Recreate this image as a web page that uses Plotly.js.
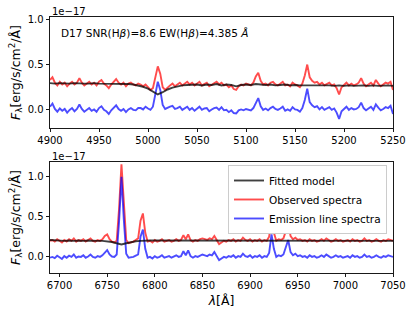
<!DOCTYPE html>
<html><head><meta charset="utf-8">
<script src="https://cdn.plot.ly/plotly-3.0.1.min.js"></script>
<style>html,body{margin:0;padding:0;background:#fff}</style>
</head><body><div id="chart" style="width:415px;height:316px"></div>
<script>
// Wavelength grids (start, step) – values listed below are sampled on these grids
const topStart = 4900, obsStep = 2.5, modelStep = 5;
const botStart = 6690;

// ---- Top panel (H-beta region), flux in units of 1e-17 ----
const topModel = [0.295,0.29,0.295,0.29,0.29,0.295,0.29,0.29,0.29,0.295,0.29,0.29,0.285,0.29,0.29,0.29,0.285,0.28,0.27,0.255,0.235,0.205,0.17,0.195,0.225,0.245,0.26,0.27,0.275,0.28,0.28,0.27,0.28,0.275,0.285,0.27,0.28,0.275,0.26,0.275,0.28,0.275,0.285,0.28,0.275,0.28,0.27,0.275,0.28,0.27,0.275,0.27,0.27,0.275,0.27,0.275,0.27,0.27,0.265,0.27,0.265,0.27,0.265,0.27,0.27,0.265,0.27,0.265,0.27,0.27,0.265];
const topObserved = [0.33,0.36,0.30,0.27,0.31,0.28,0.30,0.26,0.29,0.31,0.28,0.30,0.35,0.30,0.27,0.29,0.31,0.28,0.30,0.27,0.31,0.33,0.29,0.27,0.24,0.28,0.31,0.34,0.30,0.28,0.30,0.26,0.29,0.30,0.28,0.27,0.29,0.28,0.26,0.28,0.25,0.22,0.24,0.36,0.48,0.40,0.25,0.22,0.25,0.27,0.29,0.26,0.28,0.30,0.27,0.29,0.31,0.28,0.30,0.27,0.29,0.31,0.27,0.29,0.30,0.26,0.28,0.30,0.31,0.28,0.30,0.27,0.28,0.25,0.27,0.23,0.22,0.26,0.28,0.27,0.29,0.28,0.27,0.30,0.37,0.41,0.32,0.28,0.29,0.27,0.30,0.31,0.28,0.27,0.29,0.31,0.27,0.28,0.26,0.30,0.28,0.27,0.25,0.29,0.38,0.50,0.36,0.32,0.30,0.31,0.28,0.30,0.27,0.29,0.30,0.27,0.28,0.24,0.17,0.25,0.28,0.30,0.27,0.29,0.27,0.28,0.30,0.35,0.29,0.26,0.28,0.30,0.27,0.33,0.29,0.26,0.28,0.30,0.29,0.31,0.22];
const topEmission = [0.035,0.07,0.01,-0.02,0.015,-0.01,0.01,-0.03,0.0,0.02,-0.015,0.01,0.06,0.01,-0.02,0.0,0.02,-0.01,0.005,-0.02,0.02,0.04,0.0,-0.015,-0.045,-0.005,0.02,0.05,0.01,-0.01,0.01,-0.025,0.005,0.02,0.0,-0.005,0.02,0.02,0.005,0.035,0.015,0.0,0.035,0.17,0.31,0.22,0.055,0.01,0.025,0.035,0.045,0.01,0.02,0.035,0.0,0.02,0.035,0.0,0.02,-0.01,0.01,0.035,0.0,0.015,0.02,-0.015,0.005,0.02,0.025,0.0,0.03,-0.005,0.0,-0.025,-0.005,-0.035,-0.04,-0.005,0.005,-0.005,0.01,0.0,-0.005,0.02,0.085,0.13,0.04,0.0,0.015,-0.005,0.02,0.035,0.01,0.0,0.015,0.035,-0.01,0.005,-0.01,0.03,0.005,0.0,-0.02,0.02,0.11,0.235,0.085,0.05,0.03,0.04,0.005,0.03,0.0,0.02,0.03,0.0,0.015,-0.03,-0.1,-0.015,0.015,0.035,0.0,0.02,0.005,0.01,0.03,0.08,0.02,-0.005,0.015,0.035,0.0,0.06,0.025,-0.005,0.01,0.03,0.02,0.045,-0.045];

// ---- Bottom panel (H-alpha / [NII] / [SII] region) ----
const botModel = [0.21,0.205,0.205,0.2,0.205,0.2,0.205,0.2,0.205,0.2,0.2,0.2,0.195,0.185,0.17,0.155,0.17,0.185,0.195,0.2,0.205,0.205,0.205,0.205,0.2,0.205,0.2,0.205,0.2,0.205,0.2,0.2,0.2,0.2,0.205,0.2,0.205,0.2,0.2,0.205,0.2,0.205,0.2,0.205,0.2,0.2,0.205,0.2,0.205,0.2,0.2,0.205,0.2,0.2,0.205,0.2,0.2,0.205,0.2,0.2,0.2,0.205,0.2,0.2,0.2,0.205,0.2,0.2,0.2,0.2,0.205,0.2,0.2];
const botObserved = [0.20,0.21,0.19,0.22,0.20,0.18,0.21,0.19,0.22,0.20,0.23,0.19,0.21,0.20,0.22,0.19,0.21,0.23,0.20,0.19,0.21,0.20,0.22,0.26,0.28,0.22,0.19,0.18,0.20,0.60,1.15,0.62,0.21,0.17,0.18,0.19,0.21,0.23,0.45,0.54,0.30,0.19,0.20,0.18,0.21,0.19,0.20,0.22,0.19,0.20,0.21,0.19,0.20,0.22,0.20,0.21,0.27,0.22,0.28,0.21,0.19,0.21,0.20,0.22,0.23,0.22,0.21,0.23,0.22,0.26,0.21,0.16,0.18,0.20,0.19,0.21,0.20,0.22,0.19,0.21,0.20,0.24,0.21,0.20,0.22,0.19,0.21,0.20,0.22,0.19,0.21,0.20,0.25,0.48,0.30,0.20,0.22,0.21,0.23,0.33,0.41,0.26,0.22,0.24,0.21,0.22,0.20,0.21,0.19,0.22,0.20,0.21,0.19,0.20,0.22,0.20,0.23,0.21,0.19,0.20,0.22,0.20,0.21,0.19,0.20,0.21,0.19,0.22,0.20,0.21,0.19,0.20,0.23,0.20,0.21,0.19,0.20,0.22,0.20,0.19,0.21,0.20,0.22,0.21,0.20];
const botEmission = [-0.01,0.0,-0.015,0.015,-0.005,-0.025,0.01,-0.01,0.015,0.0,0.03,-0.01,0.005,0.0,0.02,-0.01,0.005,0.03,0.0,-0.01,0.01,0.0,0.02,0.06,0.085,0.03,0.005,0.0,0.03,0.44,0.995,0.46,0.04,-0.01,-0.005,0.0,0.015,0.03,0.25,0.34,0.1,-0.01,0.0,-0.02,0.01,-0.01,0.0,0.02,-0.01,0.0,0.01,-0.01,0.0,0.02,0.0,0.01,0.07,0.02,0.08,0.01,-0.01,0.01,0.0,0.02,0.03,0.02,0.01,0.03,0.02,0.06,0.01,-0.04,-0.02,0.0,-0.01,0.01,0.0,0.02,-0.01,0.01,0.0,0.04,0.01,0.0,0.02,-0.01,0.01,0.0,0.02,-0.01,0.01,0.0,0.05,0.28,0.1,0.0,0.02,0.01,0.03,0.13,0.21,0.06,0.02,0.04,0.01,0.02,0.0,0.01,-0.01,0.02,0.0,0.01,-0.01,0.0,0.02,0.0,0.03,0.01,-0.01,0.0,0.02,0.0,0.01,-0.01,0.0,0.01,-0.01,0.02,0.0,0.01,-0.01,0.0,0.03,0.0,0.01,-0.01,0.0,0.02,0.0,-0.01,0.01,0.0,0.02,0.01,0.0];

const topTicks = [4900,4950,5000,5050,5100,5150,5200,5250];
const botTicks = [6700,6750,6800,6850,6900,6950,7000,7050];
const yTicks = [0.0,0.5,1.0];
const seriesNames = ['Fitted model','Observed spectra','Emission line spectra'];

function grid(start, step, n){ const a=[]; for(let i=0;i<n;i++) a.push(start+i*step); return a; }

const cRed='rgba(255,0,0,0.7)', cBlue='rgba(0,0,255,0.7)', cBlack='rgba(0,0,0,0.75)';
const lw = 1.9;
const traces = [
  {x:grid(topStart,obsStep,topObserved.length), y:topObserved, xaxis:'x', yaxis:'y', mode:'lines', line:{color:cRed,width:lw}, name:seriesNames[1], showlegend:false},
  {x:grid(topStart,obsStep,topEmission.length), y:topEmission, xaxis:'x', yaxis:'y', mode:'lines', line:{color:cBlue,width:lw}, name:seriesNames[2], showlegend:false},
  {x:grid(topStart,modelStep,topModel.length), y:topModel, xaxis:'x', yaxis:'y', mode:'lines', line:{color:cBlack,width:lw}, name:seriesNames[0], showlegend:false},
  {x:grid(botStart,obsStep,botObserved.length), y:botObserved, xaxis:'x2', yaxis:'y2', mode:'lines', line:{color:cRed,width:lw}, name:seriesNames[1], legendrank:2},
  {x:grid(botStart,obsStep,botEmission.length), y:botEmission, xaxis:'x2', yaxis:'y2', mode:'lines', line:{color:cBlue,width:lw}, name:seriesNames[2], legendrank:3},
  {x:grid(botStart,modelStep,botModel.length), y:botModel, xaxis:'x2', yaxis:'y2', mode:'lines', line:{color:cBlack,width:lw}, name:seriesNames[0], legendrank:1}
];

const axisCommon = {showline:true, mirror:true, linecolor:'#000', linewidth:0.9, ticks:'outside', ticklen:3.5, tickwidth:0.9, tickcolor:'#000', showgrid:false, zeroline:false, tickfont:{size:10, color:'#000'}};
const yTitle = '<i>F</i><sub>λ</sub>[erg/s/cm<sup>2</sup>/Å]';

const layout = {
  width:415, height:316,
  margin:{l:50, r:22, t:17, b:43},
  paper_bgcolor:'#fff', plot_bgcolor:'#fff',
  font:{family:'DejaVu Sans', size:10, color:'#000'},
  showlegend:true,
  legend:{x:0.9825, xanchor:'right', y:0.4219, yanchor:'top', bgcolor:'#fff', bordercolor:'#ccc', borderwidth:1, font:{size:10.5}, traceorder:'normal'},
  xaxis:Object.assign({}, axisCommon, {domain:[0,1], anchor:'y', range:[4900,5250], tickvals:topTicks}),
  yaxis:Object.assign({}, axisCommon, {domain:[0.5664,1], anchor:'x', range:[-0.2,1.025], tickvals:yTicks, tickformat:'.1f', title:{text:yTitle, font:{size:12.5}, standoff:4}}),
  xaxis2:Object.assign({}, axisCommon, {domain:[0,1], anchor:'y2', range:[6690,7050], tickvals:botTicks, title:{text:'<i>λ</i>[Å]', font:{size:12.5}, standoff:5}}),
  yaxis2:Object.assign({}, axisCommon, {domain:[0,0.4336], anchor:'x2', range:[-0.2,1.18], tickvals:yTicks, tickformat:'.1f', title:{text:yTitle, font:{size:12.5}, standoff:4}}),
  annotations:[
    {xref:'paper', yref:'paper', x:0.026, y:0.9375, xanchor:'left', yanchor:'middle', showarrow:false, text:'D17 SNR(H<i>β</i>)=8.6 EW(H<i>β</i>)=4.385 <i>Å</i>', font:{size:10.5}},
    {xref:'paper', yref:'paper', x:0, y:1.0234, xanchor:'left', yanchor:'middle', showarrow:false, text:'1e−17', font:{size:10}},
    {xref:'paper', yref:'paper', x:0, y:0.457, xanchor:'left', yanchor:'middle', showarrow:false, text:'1e−17', font:{size:10}}
  ]
};
Plotly.newPlot('chart', traces, layout, {displayModeBar:false, staticPlot:true});
</script>
</body></html>
